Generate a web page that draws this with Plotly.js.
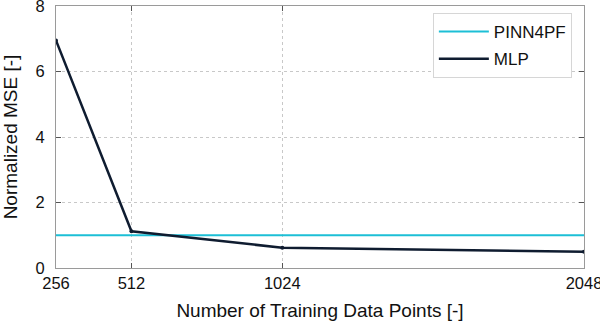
<!DOCTYPE html>
<html>
<head>
<meta charset="utf-8">
<script src="https://cdn.plot.ly/plotly-3.0.1.min.js"></script>
<style>
  body { margin: 0; background: #fff; }
  #chart { width: 600px; height: 324px; }
</style>
</head>
<body>
<div id="chart"></div>
<script>
const trainPoints = [256, 512, 1024, 2048];
const mlpMse = [6.95, 1.12, 0.62, 0.5];
const pinnPoints = [256, 2048];
const pinnMse = [1.0, 1.0];
const xTicks = [256, 512, 1024, 2048];
const yTicks = [0, 2, 4, 6, 8];

const traces = [
    {
        x: pinnPoints,
        y: pinnMse,
        type: 'scatter',
        mode: 'lines',
        name: 'PINN4PF',
        legendgroup: 'a',
        line: { color: '#1cbfd6', width: 2 }
    },
    {
        x: trainPoints,
        y: mlpMse,
        type: 'scatter',
        mode: 'lines',
        name: 'MLP',
        legendgroup: 'b',
        line: { color: '#0f1c30', width: 2.5 }
    },
    // small dots on the MLP points, kept out of the legend
    {
        x: trainPoints,
        y: mlpMse,
        type: 'scatter',
        mode: 'markers',
        showlegend: false,
        legendgroup: 'b',
        marker: { color: '#0f1c30', size: 4 }
    }
];

const axisCommon = {
    showline: true,
    linecolor: '#9a9a9a',
    linewidth: 1,
    mirror: 'ticks',
    ticks: 'inside',
    ticklen: 5,
    tickcolor: '#555',
    showgrid: true,
    gridcolor: '#c8c8c8',
    griddash: 'dot',
    gridwidth: 1,
    zeroline: false,
    ticklabeloverflow: 'allow',
    tickfont: { family: 'Liberation Sans, Arial, sans-serif', size: 16.5, color: '#111' }
};

const layout = {
    width: 600,
    height: 324,
    margin: { l: 56, r: 16, t: 6, b: 56 },
    paper_bgcolor: '#fff',
    plot_bgcolor: '#fff',
    font: { family: 'Liberation Sans, Arial, sans-serif', color: '#111' },
    xaxis: Object.assign({}, axisCommon, {
        range: [256, 2048],
        tickvals: xTicks,
        ticktext: xTicks.map(String),
        automargin: false,
        title: { text: 'Number of Training Data Points [-]', font: { size: 19 }, standoff: 12 }
    }),
    yaxis: Object.assign({}, axisCommon, {
        range: [0, 8],
        tickvals: yTicks,
        automargin: false,
        ticklabelstandoff: 7,
        title: { text: 'Normalized MSE [-]', font: { size: 19 }, standoff: 12 }
    }),
    legend: {
        x: 0.977,
        y: 0.973,
        xanchor: 'right',
        yanchor: 'top',
        bgcolor: '#fff',
        bordercolor: '#d6d6d6',
        borderwidth: 1,
        itemwidth: 50,
        font: { size: 17, color: '#111' },
        traceorder: 'grouped',
        tracegroupgap: 2
    },
    showlegend: true
};

Plotly.newPlot('chart', traces, layout, { displayModeBar: false, staticPlot: true });
</script>
</body>
</html>
